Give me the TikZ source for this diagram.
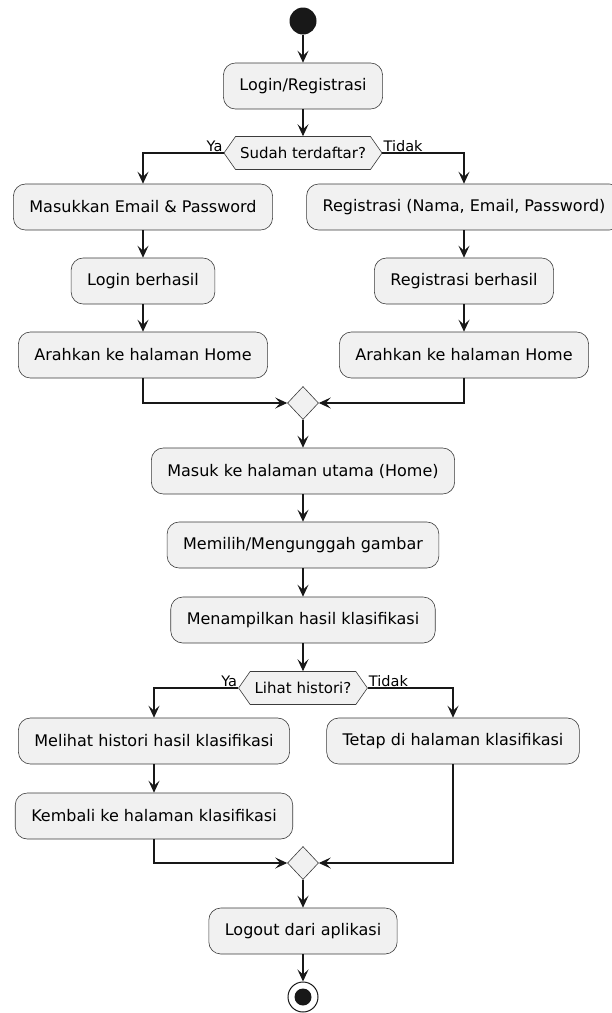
\documentclass[tikz,border=0pt]{standalone}
\usepackage{fontspec}
\setmainfont{DejaVu Sans}
\usetikzlibrary{shapes.geometric, shapes.symbols, arrows.meta, positioning}

\definecolor{actfill}{HTML}{F1F1F1}
\definecolor{umlline}{HTML}{181818}

\begin{document}
\begin{tikzpicture}[x=1pt,y=-1pt,
  act/.style={rectangle, rounded corners=12pt, draw=umlline!85, line width=0.6pt, fill=actfill, minimum height=46pt, inner xsep=16pt, font=\fontsize{16}{19}\selectfont},
  dec/.style={signal, signal to=east and west, signal pointer angle=110, draw=umlline!85, line width=0.6pt, fill=actfill, minimum height=33pt, inner xsep=4.5pt, font=\fontsize{15}{18}\selectfont},
  merge/.style={diamond, draw=umlline!85, line width=0.6pt, fill=actfill, minimum width=31pt, minimum height=33pt, inner sep=0pt},
  lbl/.style={inner sep=1pt, font=\fontsize{14.5}{17}\selectfont},
  flow/.style={draw=umlline, line width=1.1pt, -{Stealth[length=12pt,width=11pt,inset=5pt]}}]
\path[use as bounding box, fill=white] (0,0) rectangle (612,1013);

\node[circle, fill=umlline, minimum size=27pt, inner sep=0pt] (start) at (303,21) {};
\node[act] (act-login) at (303,86) {Login/Registrasi};
\node[dec] (dec-1) at (303,153) {Sudah terdaftar?};
\node[act] (act-email) at (143,207) {Masukkan Email \& Password};
\node[act] (act-reg) at (464,207) {Registrasi (Nama, Email, Password)};
\node[act] (act-loginok) at (143,281) {Login berhasil};
\node[act] (act-regok) at (464,281) {Registrasi berhasil};
\node[act] (act-homeL) at (143,355) {Arahkan ke halaman Home};
\node[act] (act-homeR) at (464,355) {Arahkan ke halaman Home};
\node[merge] (merge-1) at (303,403) {};
\node[act] (act-main) at (303,471) {Masuk ke halaman utama (Home)};
\node[act] (act-pick) at (303,545) {Memilih/Mengunggah gambar};
\node[act] (act-result) at (303,620) {Menampilkan hasil klasifikasi};
\node[dec] (dec-2) at (303,688) {Lihat histori?};
\node[act] (act-hist) at (154,741) {Melihat histori hasil klasifikasi};
\node[act] (act-stay) at (453,741) {Tetap di halaman klasifikasi};
\node[act] (act-back) at (154,816) {Kembali ke halaman klasifikasi};
\node[merge] (merge-2) at (303,863) {};
\node[act] (act-logout) at (303,931) {Logout dari aplikasi};
\node[circle, draw=umlline, line width=1pt, fill=white, minimum size=30pt, inner sep=0pt] (stop) at (303,997) {};
\node[circle, fill=umlline, minimum size=17pt, inner sep=0pt] (stop-dot) at (stop) {};

\node[lbl, anchor=south east] (ya-1) at (dec-1.west) {Ya};
\node[lbl, anchor=south west] (tidak-1) at (dec-1.east) {Tidak};
\node[lbl, anchor=south east] (ya-2) at (dec-2.west) {Ya};
\node[lbl, anchor=south west] (tidak-2) at (dec-2.east) {Tidak};

\foreach \a/\b in {start/act-login, act-login/dec-1, act-email/act-loginok, act-loginok/act-homeL, act-reg/act-regok, act-regok/act-homeR, merge-1/act-main, act-main/act-pick, act-pick/act-result, act-result/dec-2, act-hist/act-back, merge-2/act-logout, act-logout/stop}{
  \draw[flow] (\a.south) -- (\b.north);
};
\draw[flow] (dec-1.west) -| (act-email.north);
\draw[flow] (dec-1.east) -| (act-reg.north);
\draw[flow] (act-homeL.south) |- (merge-1.west);
\draw[flow] (act-homeR.south) |- (merge-1.east);
\draw[flow] (dec-2.west) -| (act-hist.north);
\draw[flow] (dec-2.east) -| (act-stay.north);
\draw[flow] (act-back.south) |- (merge-2.west);
\draw[flow] (act-stay.south) |- (merge-2.east);
\end{tikzpicture}
\end{document}
